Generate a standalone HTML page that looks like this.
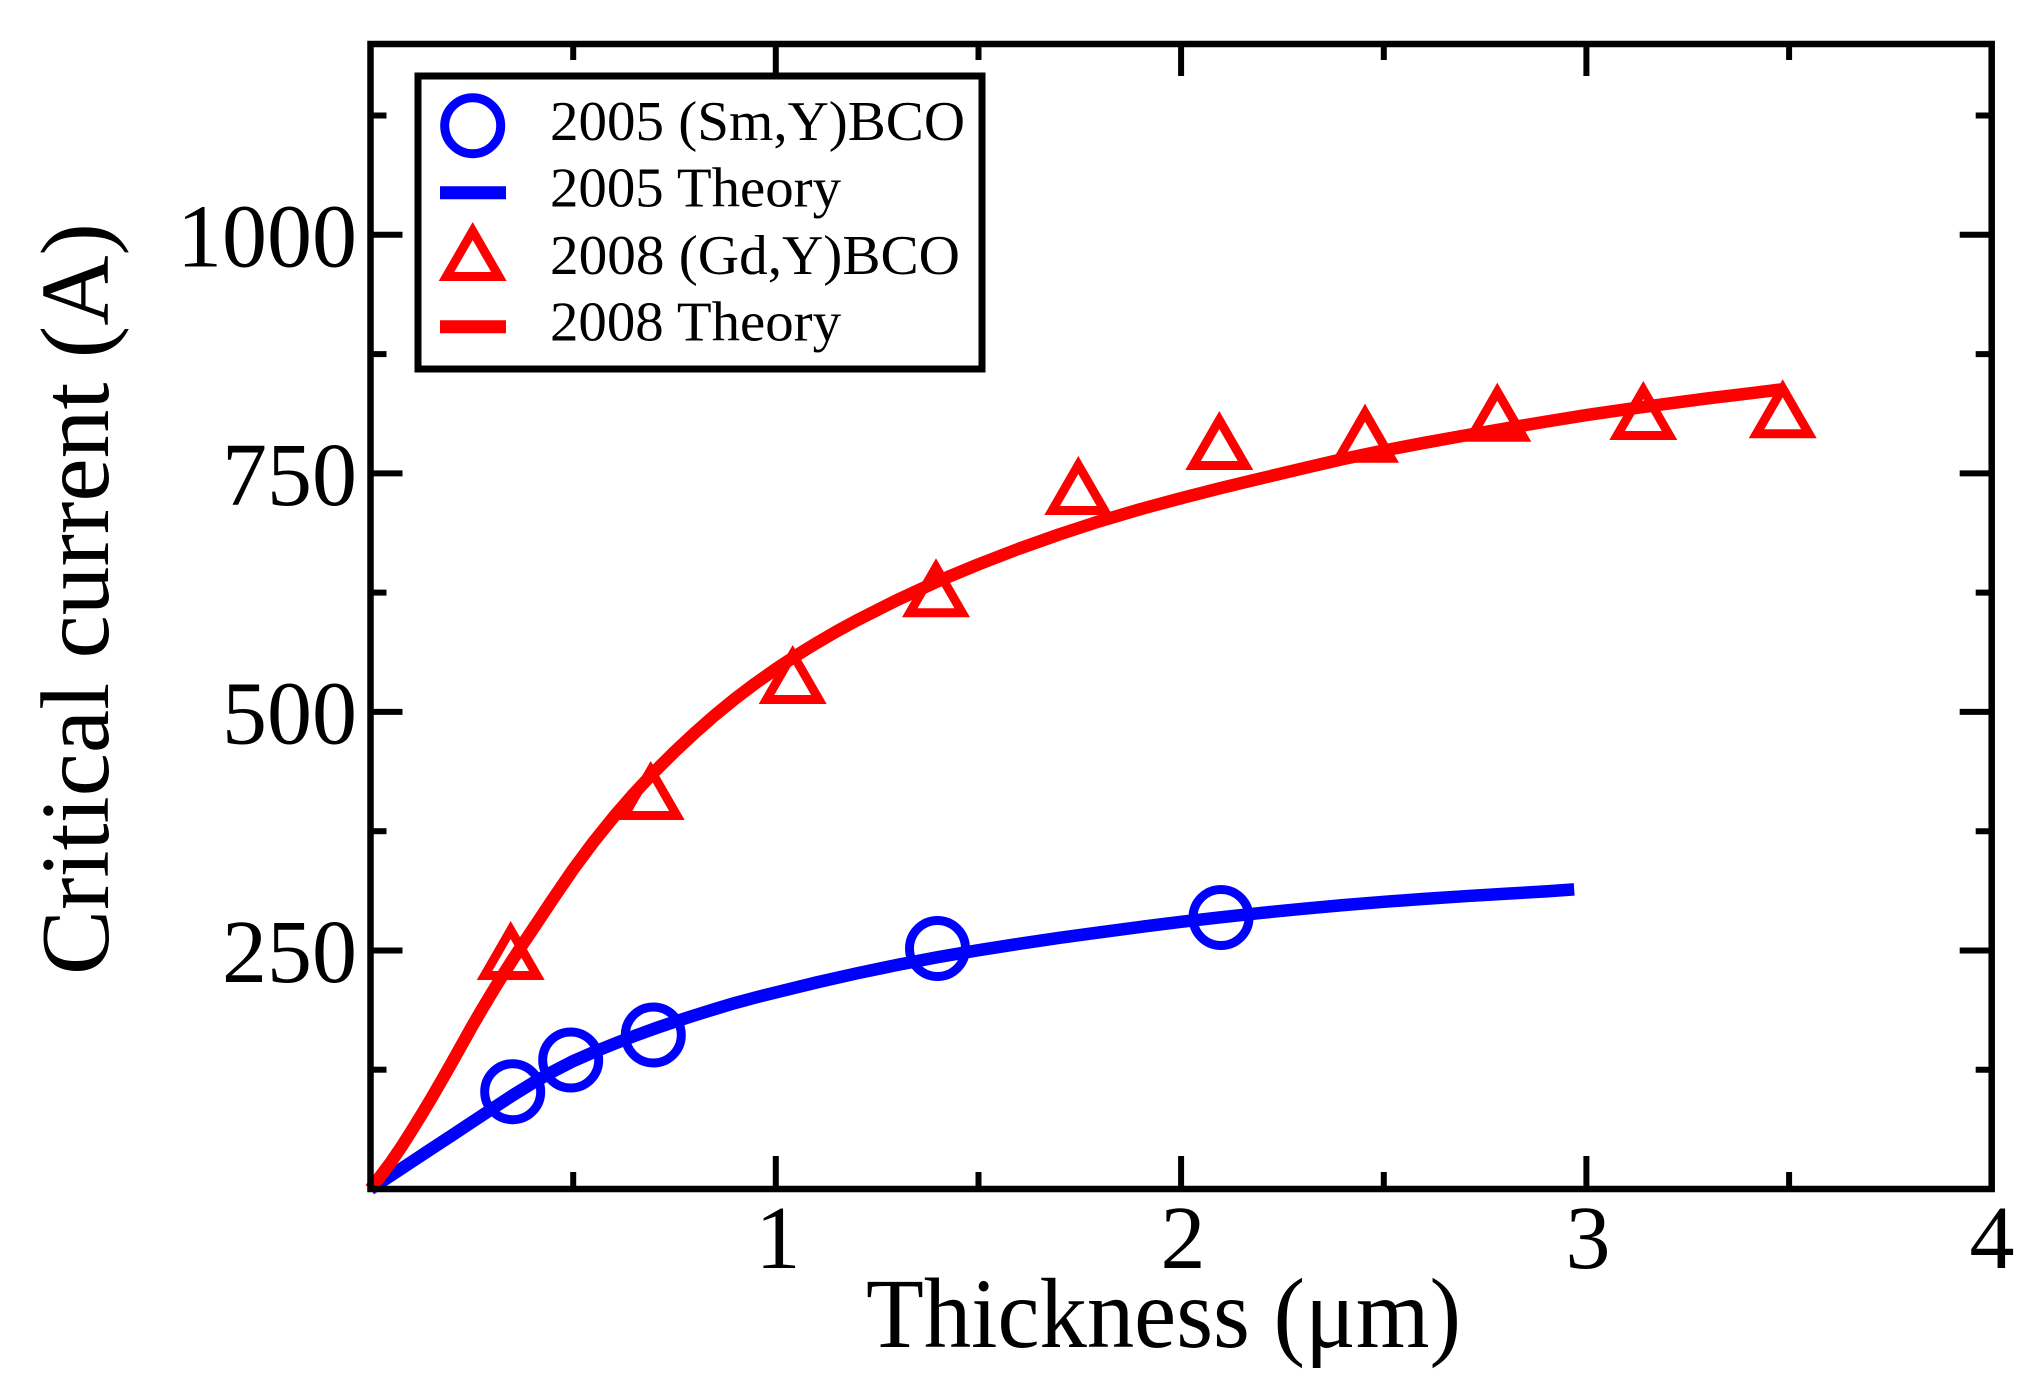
<!DOCTYPE html>
<html>
<head>
<meta charset="utf-8">
<style>
  html, body { margin: 0; padding: 0; background: #ffffff; }
  svg { display: block; }
  text { font-family: "Liberation Serif", "DejaVu Serif", serif; fill: #000; }
</style>
</head>
<body>
<svg xmlns="http://www.w3.org/2000/svg" width="2037" height="1379" viewBox="0 0 2037 1379">
  <rect x="0" y="0" width="2037" height="1379" fill="#ffffff"/>

  <!-- Blue series: circles + theory -->
  <g fill="none" stroke="#0000ff" stroke-width="9">
    <circle cx="512.7" cy="1091.7" r="28"/>
    <circle cx="570.7" cy="1060" r="28"/>
    <circle cx="653.3" cy="1035" r="28"/>
    <circle cx="937.5" cy="948.5" r="28"/>
    <circle cx="1221" cy="917.5" r="28"/>
  </g>
  <polyline fill="none" stroke="#0000ff" stroke-width="12.5" stroke-linejoin="round"
    points="370.5,1189 390.8,1175.6 411.0,1162.3 431.3,1148.9 451.6,1135.6 471.8,1122.2 492.1,1108.8 512.4,1095.5 532.6,1083.1 552.9,1071.6 573.2,1061.1 593.5,1052.2 613.7,1044.0 634.0,1036.1 654.2,1028.7 674.5,1021.8 694.7,1015.3 715.0,1009.0 735.3,1002.9 755.5,997.5 775.8,992.4 816.3,982.5 856.9,973.3 897.4,964.9 937.9,957.1 978.5,950.2 1019.0,943.8 1059.5,937.8 1100.0,932.3 1140.6,926.9 1181.1,921.8 1221.7,917.2 1262.2,912.8 1302.7,908.8 1343.2,905.1 1383.8,901.8 1424.3,898.9 1464.8,896.2 1505.3,893.7 1545.9,891.4 1574.2,889.4"/>

  <!-- Red series: triangles + theory -->
  <g fill="none" stroke="#ff0000" stroke-width="9" stroke-linejoin="miter">
    <polygon points="510.7,930 484.5,975.5 536.9,975.5"/>
    <polygon points="650.7,770 624.5,815.5 676.9,815.5"/>
    <polygon points="792.7,654 766.5,699.5 818.9,699.5"/>
    <polygon points="936,567.3 909.8,612.8 962.2,612.8"/>
    <polygon points="1078.3,465 1052.1,510.5 1104.5,510.5"/>
    <polygon points="1219.3,420 1193.1,465.5 1245.5,465.5"/>
    <polygon points="1365,412.7 1338.8,458.2 1391.2,458.2"/>
    <polygon points="1497.3,391.7 1471.1,437.2 1523.5,437.2"/>
    <polygon points="1643.3,390 1617.1,435.5 1669.5,435.5"/>
    <polygon points="1782.7,388.3 1756.5,433.8 1808.9,433.8"/>
  </g>
  <polyline fill="none" stroke="#ff0000" stroke-width="12.5" stroke-linejoin="round"
    points="370.5,1189 380.6,1176.0 390.8,1162.3 400.9,1147.6 411.0,1131.7 421.2,1115.2 431.3,1098.4 441.4,1080.9 451.6,1063.0 461.7,1044.9 471.8,1026.8 482.0,1009.3 492.1,992.4 502.2,976.0 512.4,960.0 522.5,944.6 532.6,929.5 552.9,899.0 573.2,869.3 593.5,842.0 613.7,816.9 634.0,793.5 654.2,772.0 674.5,751.8 694.7,732.9 715.0,715.1 735.3,698.5 755.5,683.3 775.8,669.0 796.0,655.7 816.3,643.2 836.6,631.4 856.9,620.3 897.4,599.9 937.9,581.2 978.5,564.3 1019.0,548.7 1059.5,534.3 1100.0,521.1 1140.6,509.1 1181.1,498.2 1221.7,487.8 1262.2,478.1 1302.7,468.4 1343.2,459.0 1383.8,450.5 1424.3,442.8 1464.8,435.5 1505.3,428.5 1545.9,421.6 1586.4,415.1 1627.0,409.2 1667.5,403.7 1708.0,398.3 1749.0,393.4 1781.0,389.4"/>

  <!-- Frame -->
  <rect x="370.5" y="44" width="1621.2" height="1145" fill="none" stroke="#000" stroke-width="6.5" stroke-linejoin="miter"/>

  <!-- Ticks -->
  <g stroke="#000" stroke-width="6">
    <line x1="370.5" y1="950.5" x2="402.5" y2="950.5"/>
    <line x1="370.5" y1="711.9" x2="402.5" y2="711.9"/>
    <line x1="370.5" y1="473.4" x2="402.5" y2="473.4"/>
    <line x1="370.5" y1="234.8" x2="402.5" y2="234.8"/>
    <line x1="370.5" y1="1069.7" x2="386.5" y2="1069.7"/>
    <line x1="370.5" y1="831.2" x2="386.5" y2="831.2"/>
    <line x1="370.5" y1="592.6" x2="386.5" y2="592.6"/>
    <line x1="370.5" y1="354.1" x2="386.5" y2="354.1"/>
    <line x1="370.5" y1="115.5" x2="386.5" y2="115.5"/>
    <line x1="1991.7" y1="950.5" x2="1959.7" y2="950.5"/>
    <line x1="1991.7" y1="711.9" x2="1959.7" y2="711.9"/>
    <line x1="1991.7" y1="473.4" x2="1959.7" y2="473.4"/>
    <line x1="1991.7" y1="234.8" x2="1959.7" y2="234.8"/>
    <line x1="1991.7" y1="1069.7" x2="1975.7" y2="1069.7"/>
    <line x1="1991.7" y1="831.2" x2="1975.7" y2="831.2"/>
    <line x1="1991.7" y1="592.6" x2="1975.7" y2="592.6"/>
    <line x1="1991.7" y1="354.1" x2="1975.7" y2="354.1"/>
    <line x1="1991.7" y1="115.5" x2="1975.7" y2="115.5"/>
    <line x1="775.8" y1="1189" x2="775.8" y2="1156"/>
    <line x1="1181.1" y1="1189" x2="1181.1" y2="1156"/>
    <line x1="1586.4" y1="1189" x2="1586.4" y2="1156"/>
    <line x1="573.2" y1="1189" x2="573.2" y2="1172"/>
    <line x1="978.5" y1="1189" x2="978.5" y2="1172"/>
    <line x1="1383.8" y1="1189" x2="1383.8" y2="1172"/>
    <line x1="1789.1" y1="1189" x2="1789.1" y2="1172"/>
    <line x1="775.8" y1="44" x2="775.8" y2="76"/>
    <line x1="1181.1" y1="44" x2="1181.1" y2="76"/>
    <line x1="1586.4" y1="44" x2="1586.4" y2="76"/>
    <line x1="573.2" y1="44" x2="573.2" y2="60"/>
    <line x1="978.5" y1="44" x2="978.5" y2="60"/>
    <line x1="1383.8" y1="44" x2="1383.8" y2="60"/>
    <line x1="1789.1" y1="44" x2="1789.1" y2="60"/>
  </g>

  <!-- Y tick labels -->
  <g font-size="90" text-anchor="end">
    <text x="357" y="982">250</text>
    <text x="357" y="743.4">500</text>
    <text x="357" y="504.9">750</text>
    <text x="357" y="266.3">1000</text>
  </g>

  <!-- X tick labels -->
  <g font-size="90" text-anchor="middle">
    <text x="778" y="1268">1</text>
    <text x="1183" y="1268">2</text>
    <text x="1588" y="1268">3</text>
    <text x="1992" y="1268">4</text>
  </g>

  <!-- Axis titles -->
  <text x="866" y="1347" font-size="100" textLength="595" lengthAdjust="spacingAndGlyphs">Thickness (μm)</text>
  <text transform="translate(108,975) rotate(-90)" x="0" y="0" font-size="98" textLength="752" lengthAdjust="spacingAndGlyphs">Critical current (A)</text>

  <!-- Legend -->
  <rect x="418" y="76" width="564" height="293" fill="#ffffff" stroke="#000" stroke-width="7"/>
  <circle cx="472.7" cy="125.7" r="28" fill="none" stroke="#0000ff" stroke-width="9"/>
  <line x1="440" y1="192.7" x2="506" y2="192.7" stroke="#0000ff" stroke-width="13"/>
  <polygon points="472.7,231 446.5,276.5 498.9,276.5" fill="none" stroke="#ff0000" stroke-width="9" stroke-linejoin="miter"/>
  <line x1="440" y1="326.7" x2="506" y2="326.7" stroke="#ff0000" stroke-width="13"/>
  <g font-size="56">
    <text x="550" y="140" textLength="415" lengthAdjust="spacingAndGlyphs">2005 (Sm,Y)BCO</text>
    <text x="550" y="206.7" textLength="291" lengthAdjust="spacingAndGlyphs">2005 Theory</text>
    <text x="550" y="274" textLength="410" lengthAdjust="spacingAndGlyphs">2008 (Gd,Y)BCO</text>
    <text x="550" y="340.7" textLength="291" lengthAdjust="spacingAndGlyphs">2008 Theory</text>
  </g>
</svg>
</body>
</html>
